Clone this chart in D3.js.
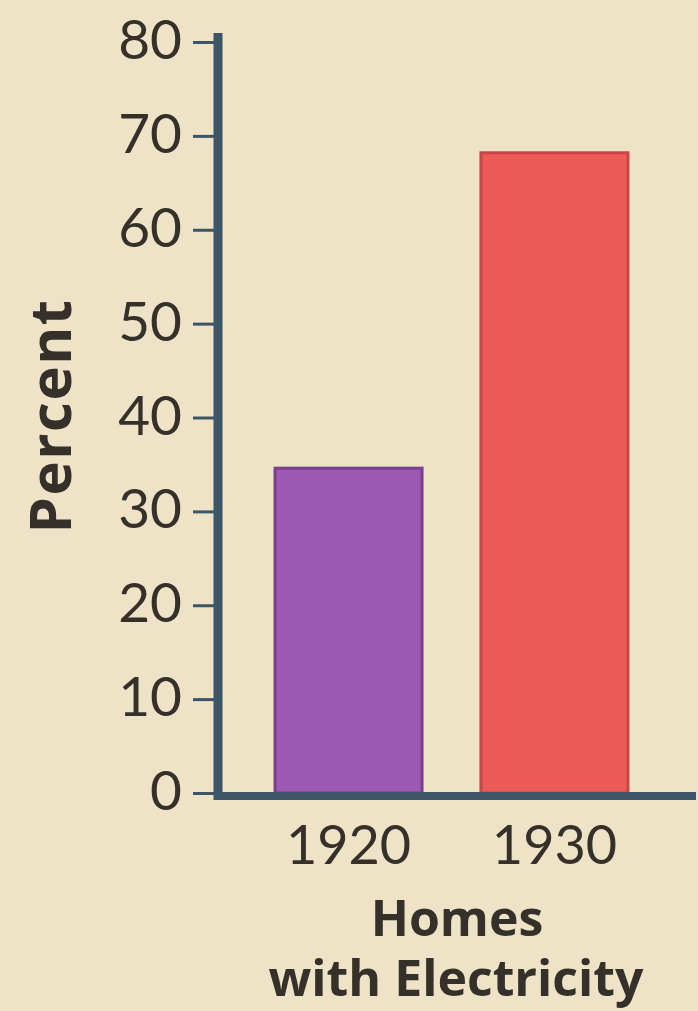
<!DOCTYPE html>
<html>
<head>
<meta charset="utf-8">
<script src="https://cdn.jsdelivr.net/npm/d3@7"></script>
<style>
  html, body { margin: 0; padding: 0; background: #efe3c7; }
  svg { display: block; }
</style>
</head>
<body>
<svg width="698" height="1011"></svg>
<script>
// data
const years = ['1920', '1930'];
const percents = [34.6, 68.2];
const barColors = ['#9d5ab3', '#ec5b58'];
const barEdges = ['#7b3f8e', '#c84646'];
const yTicks = [0, 10, 20, 30, 40, 50, 60, 70, 80];

const svg = d3.select('svg');
const font = 'Lato, "Open Sans", sans-serif';
const boldFont = '"Open Sans", Lato, sans-serif';
const axisColor = '#3c5567';
const textColor = '#35302a';

svg.append('rect').attr('width', 698).attr('height', 1011).attr('fill', '#efe3c7');

const y = d3.scaleLinear().domain([0, 80]).range([793, 42]);
const x = d3.scaleBand().domain(years).range([218, 685])
    .paddingInner(0.286).paddingOuter(0.277);

const data = years.map((d, i) => ({year: d, value: percents[i], color: barColors[i], edge: barEdges[i]}));

// bars
svg.selectAll('rect.bar')
  .data(data)
  .enter().append('rect')
  .attr('class', 'bar')
  .attr('x', d => x(d.year))
  .attr('y', d => y(d.value))
  .attr('width', x.bandwidth())
  .attr('height', d => y(0) - y(d.value))
  .attr('fill', d => d.color)
  .attr('stroke', d => d.edge)
  .attr('stroke-width', 3);

// y axis
const gy = svg.append('g')
  .attr('transform', 'translate(218,0)')
  .call(d3.axisLeft(y).tickValues(yTicks).tickSize(25).tickPadding(11));
gy.select('.domain').remove();
gy.selectAll('.tick line').attr('stroke', axisColor).attr('stroke-width', 3);
gy.selectAll('.tick text')
  .attr('fill', textColor)
  .attr('dy', '0.30em')
  .style('font-family', font)
  .style('font-size', '55px');

// thick axis lines
svg.append('line')
  .attr('x1', 218).attr('x2', 218)
  .attr('y1', 33).attr('y2', 800)
  .attr('stroke', axisColor).attr('stroke-width', 9);
svg.append('line')
  .attr('x1', 214).attr('x2', 696)
  .attr('y1', 796).attr('y2', 796)
  .attr('stroke', axisColor).attr('stroke-width', 8);

// x labels
svg.selectAll('text.year')
  .data(data)
  .enter().append('text')
  .attr('class', 'year')
  .attr('x', d => x(d.year) + x.bandwidth() / 2)
  .attr('y', 864)
  .attr('text-anchor', 'middle')
  .attr('fill', textColor)
  .style('font-family', font)
  .style('font-size', '54px')
  .text(d => d.year);

svg.append('text')
  .attr('x', 457).attr('y', 936)
  .attr('text-anchor', 'middle')
  .attr('fill', textColor)
  .style('font-family', boldFont).style('font-weight', 'bold').style('font-size', '50px')
  .text('Homes');
svg.append('text')
  .attr('x', 456).attr('y', 996)
  .attr('text-anchor', 'middle')
  .attr('fill', textColor)
  .style('font-family', boldFont).style('font-weight', 'bold').style('font-size', '50px')
  .text('with Electricity');

svg.append('text')
  .attr('transform', 'translate(71,416) rotate(-90)')
  .attr('text-anchor', 'middle')
  .attr('fill', textColor)
  .style('font-family', boldFont).style('font-weight', 'bold').style('font-size', '58px')
  .style('letter-spacing', '1.5px')
  .text('Percent');
</script>
</body>
</html>
